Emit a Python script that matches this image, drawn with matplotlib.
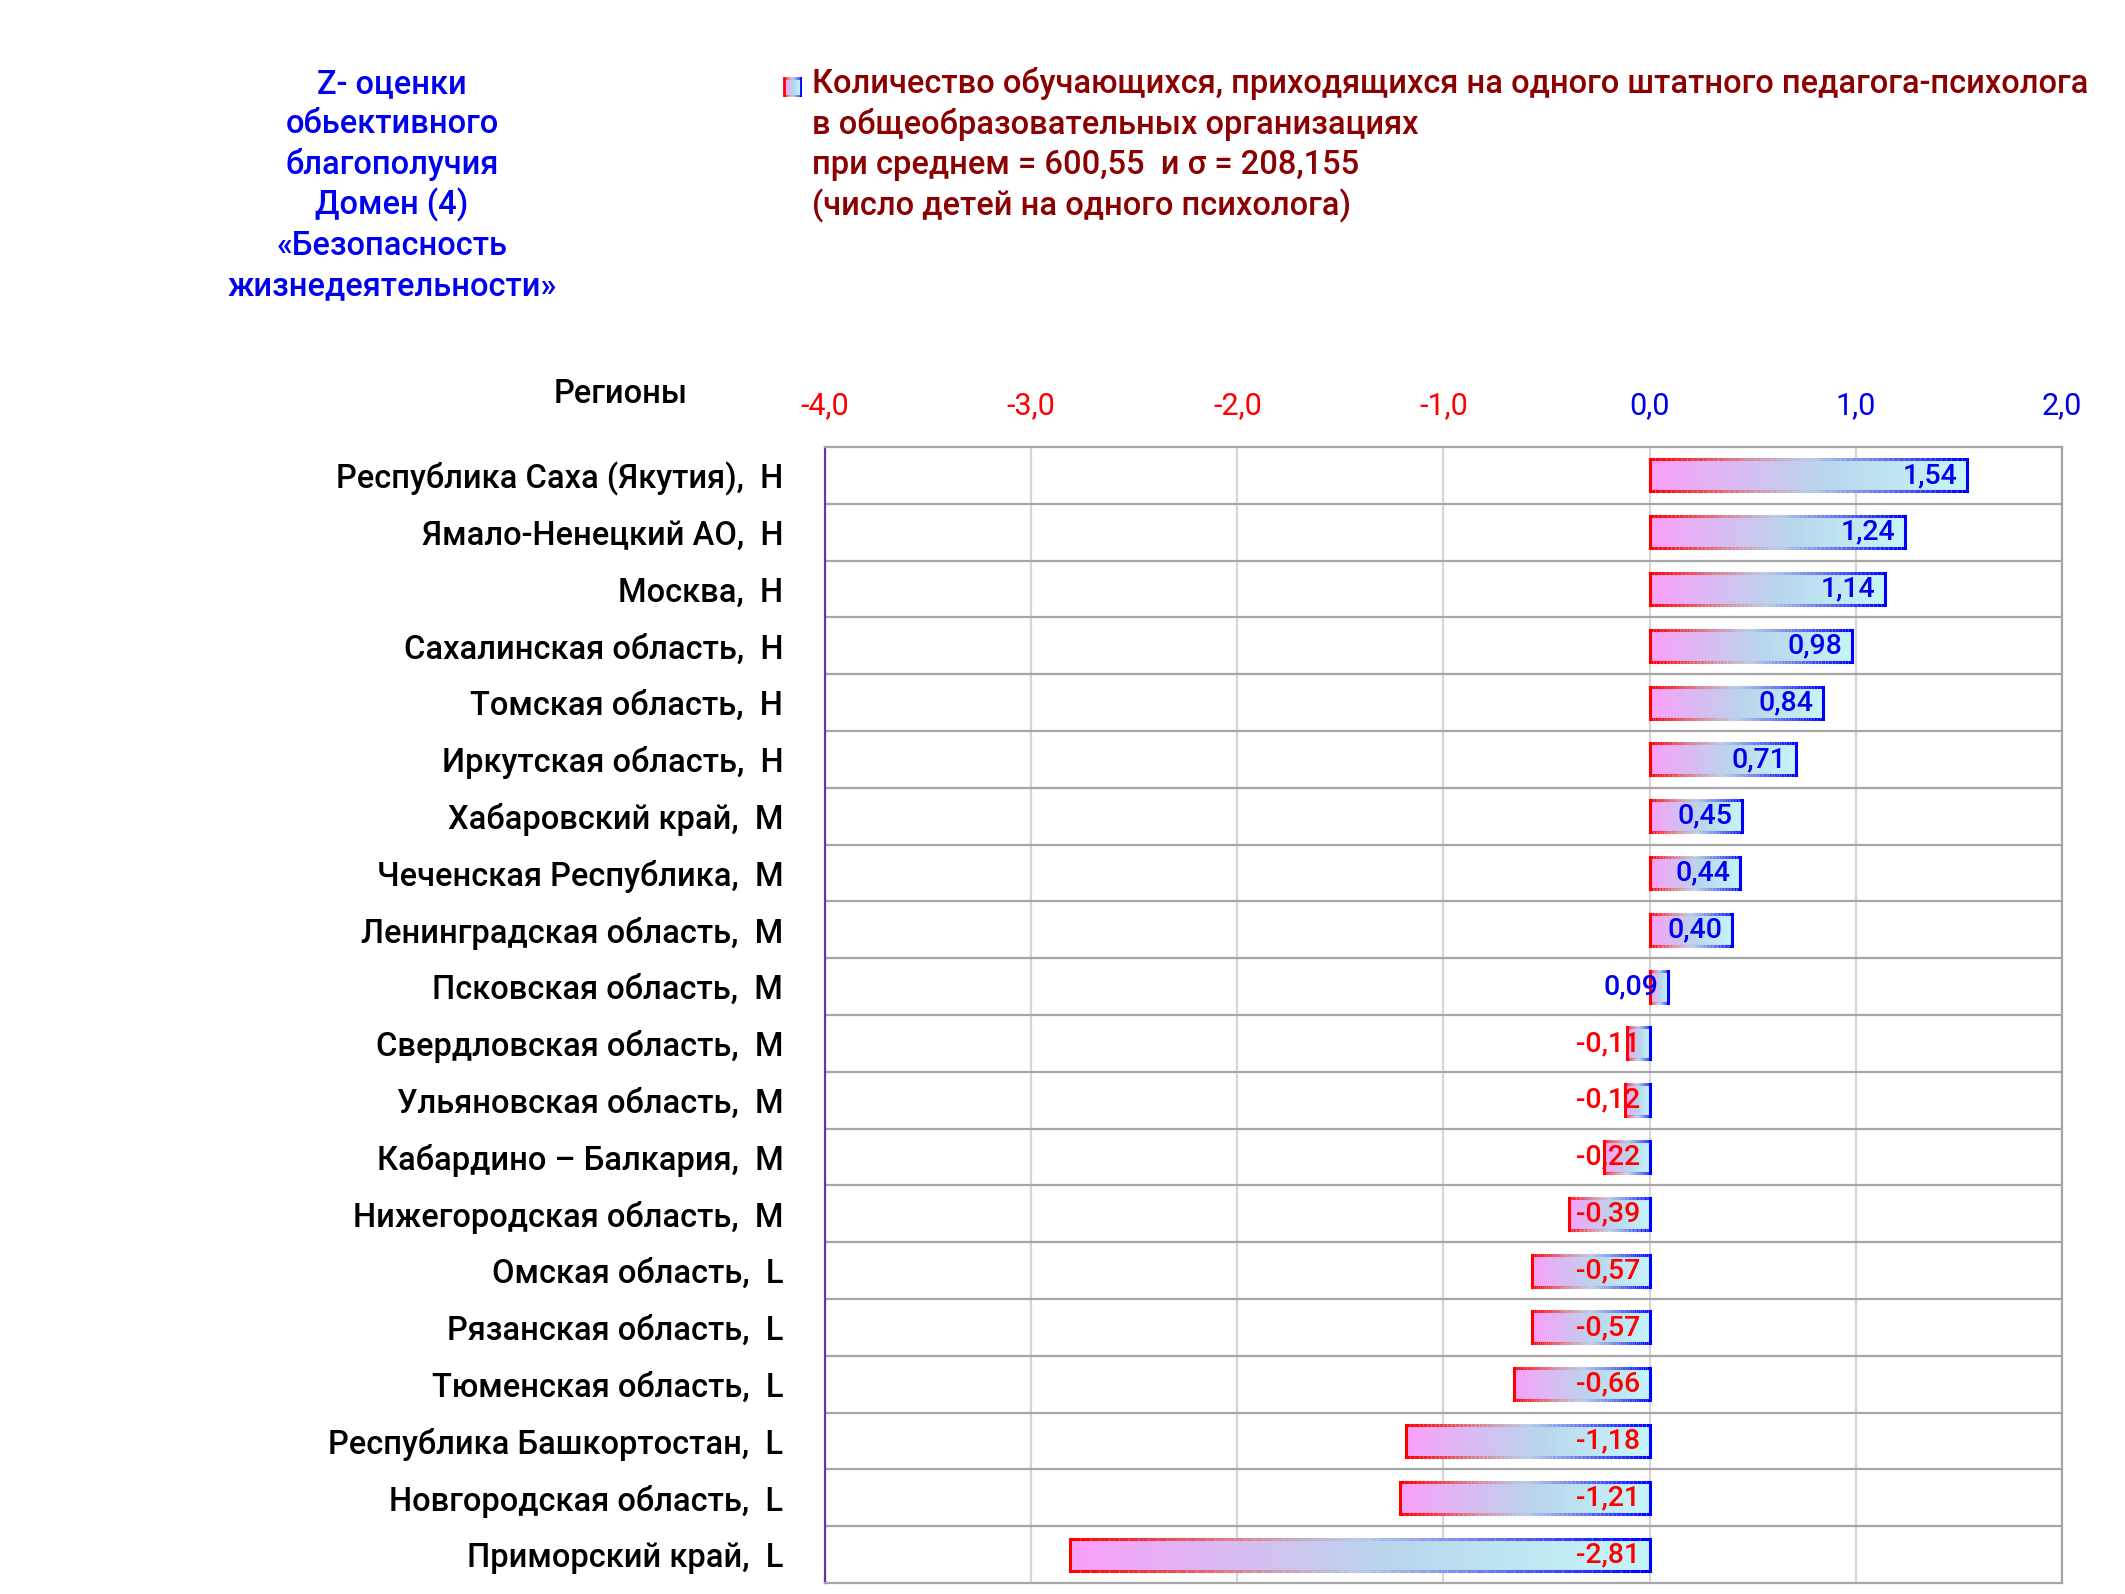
import matplotlib
matplotlib.use("Agg")
import matplotlib.pyplot as plt
import numpy as np
from matplotlib.colors import LinearSegmentedColormap
from matplotlib.collections import LineCollection

plt.rcParams['font.family'] = ['Roboto', 'DejaVu Sans']

# Регионы, группы и z-оценки
regions = [
    "Республика Саха (Якутия)", "Ямало-Ненецкий АО", "Москва",
    "Сахалинская область", "Томская область", "Иркутская область",
    "Хабаровский край", "Чеченская Республика", "Ленинградская область",
    "Псковская область", "Свердловская область", "Ульяновская область",
    "Кабардино – Балкария", "Нижегородская область", "Омская область",
    "Рязанская область", "Тюменская область", "Республика Башкортостан",
    "Новгородская область", "Приморский край",
]
groups = ["Н", "Н", "Н", "Н", "Н", "Н", "M", "M", "M", "M",
          "M", "M", "M", "M", "L", "L", "L", "L", "L", "L"]
z_scores = [1.54, 1.24, 1.14, 0.98, 0.84, 0.71, 0.45, 0.44, 0.40, 0.09,
            -0.11, -0.12, -0.22, -0.39, -0.57, -0.57, -0.66, -1.18, -1.21, -2.81]
x_ticks = [-4.0, -3.0, -2.0, -1.0, 0.0, 1.0, 2.0]

title_lines = ["Z- оценки", "обьективного", "благополучия", "Домен (4)",
               "«Безопасность", "жизнедеятельности»"]
legend_lines = [
    "Количество обучающихся, приходящихся на одного штатного педагога-психолога",
    "в общеобразовательных организациях",
    "при среднем = 600,55  и σ = 208,155",
    "(число детей на одного психолога)",
]

fill_cmap = LinearSegmentedColormap.from_list(
    "fill", [(0.0, "#FAA0FA"), (0.55, "#B9D6EC"), (1.0, "#C6F6F9")])
edge_cmap = LinearSegmentedColormap.from_list(
    "edge", [(0.0, "#FF0000"), (0.3, "#D88A9A"), (0.5, "#B8CCE8"),
             (0.75, "#6070F0"), (1.0, "#0000FF")])

RED = "#FF0000"
BLUE = "#0000EE"


def gradient_bar(ax, x0, x1, yc, h, lw=2.2):
    grad = np.linspace(0, 1, 256).reshape(1, -1)
    ax.imshow(grad, extent=[x0, x1, yc + h / 2, yc - h / 2], aspect="auto",
              cmap=fill_cmap, zorder=2, interpolation="bilinear")
    n = 60
    xs = np.linspace(x0, x1, n + 1)
    cols = edge_cmap(np.linspace(0, 1, n))
    for yy in (yc - h / 2, yc + h / 2):
        segs = [[(xs[i], yy), (xs[i + 1], yy)] for i in range(n)]
        ax.add_collection(LineCollection(segs, colors=cols, linewidths=lw,
                                         zorder=3, capstyle="butt"))
    ax.plot([x0, x0], [yc - h / 2, yc + h / 2], color=RED, lw=lw, zorder=3,
            solid_capstyle="projecting")
    ax.plot([x1, x1], [yc - h / 2, yc + h / 2], color="#0000FF", lw=lw, zorder=3,
            solid_capstyle="projecting")


W, H = 2125, 1594
fig = plt.figure(figsize=(W / 100, H / 100), dpi=100)
ax = fig.add_axes([825 / W, 1 - 1583 / H, (2062 - 825) / W, (1583 - 447) / H])

bar_h = 0.56
for i, v in enumerate(z_scores):
    x0, x1 = min(0, v), max(0, v)
    gradient_bar(ax, x0, x1, i, bar_h)
    ax.annotate(f"{v:.2f}".replace(".", ","), (x1, i), xytext=(-7, 0),
                textcoords="offset points", ha="right", va="center",
                fontsize=20.5, fontweight="medium",
                color=BLUE if v >= 0 else RED, zorder=4)

n = len(regions)
ax.set_xlim(-4, 2)
ax.set_ylim(n - 0.5, -0.5)

# сетка
for x in x_ticks:
    ax.axvline(x, color="#D6D6D6", lw=1.6, zorder=1)
for k in range(n - 1):
    ax.axhline(k + 0.5, color="#A6A6A6", lw=1.6, zorder=1)

for s in ("top", "right", "bottom"):
    ax.spines[s].set_color("#A6A6A6")
    ax.spines[s].set_linewidth(1.6)
ax.spines["left"].set_color("#7030A0")
ax.spines["left"].set_linewidth(1.6)

ax.xaxis.tick_top()
ax.set_xticks(x_ticks)
ax.set_xticklabels([f"{t:.1f}".replace(".", ",") for t in x_ticks])
for lbl, t in zip(ax.get_xticklabels(), x_ticks):
    lbl.set_color(RED if t < 0 else BLUE)
ax.tick_params(axis="x", length=0, pad=19, labelsize=22)

ax.set_yticks(range(n))
ax.set_yticklabels([f"{r},  {g}" for r, g in zip(regions, groups)])
ax.tick_params(axis="y", length=0, pad=30, labelsize=23.5)
for lbl in ax.get_yticklabels():
    lbl.set_fontweight("medium")

# заголовки
for j, line in enumerate(title_lines):
    fig.text(392 / W, 1 - (84 + j * 40.4) / H, line, ha="center", va="center",
             fontsize=23.5, color=BLUE, fontweight="medium")

for j, line in enumerate(legend_lines):
    fig.text(812 / W, 1 - (84 + j * 40.6) / H, line, ha="left", va="center",
             fontsize=23.5, color="#8B0000", fontweight="medium")

fig.text(621 / W, 1 - 394 / H, "Регионы", ha="center", va="center",
         fontsize=23.5, color="black", fontweight="medium")

# значок легенды
lax = fig.add_axes([783 / W, 1 - 97 / H, 19 / W, 20 / H])
gradient_bar(lax, 0, 1, 0, 1, lw=2.0)
lax.set_xlim(-0.08, 1.08)
lax.set_ylim(0.56, -0.56)
lax.axis("off")

fig.savefig("out.png", dpi=100)
